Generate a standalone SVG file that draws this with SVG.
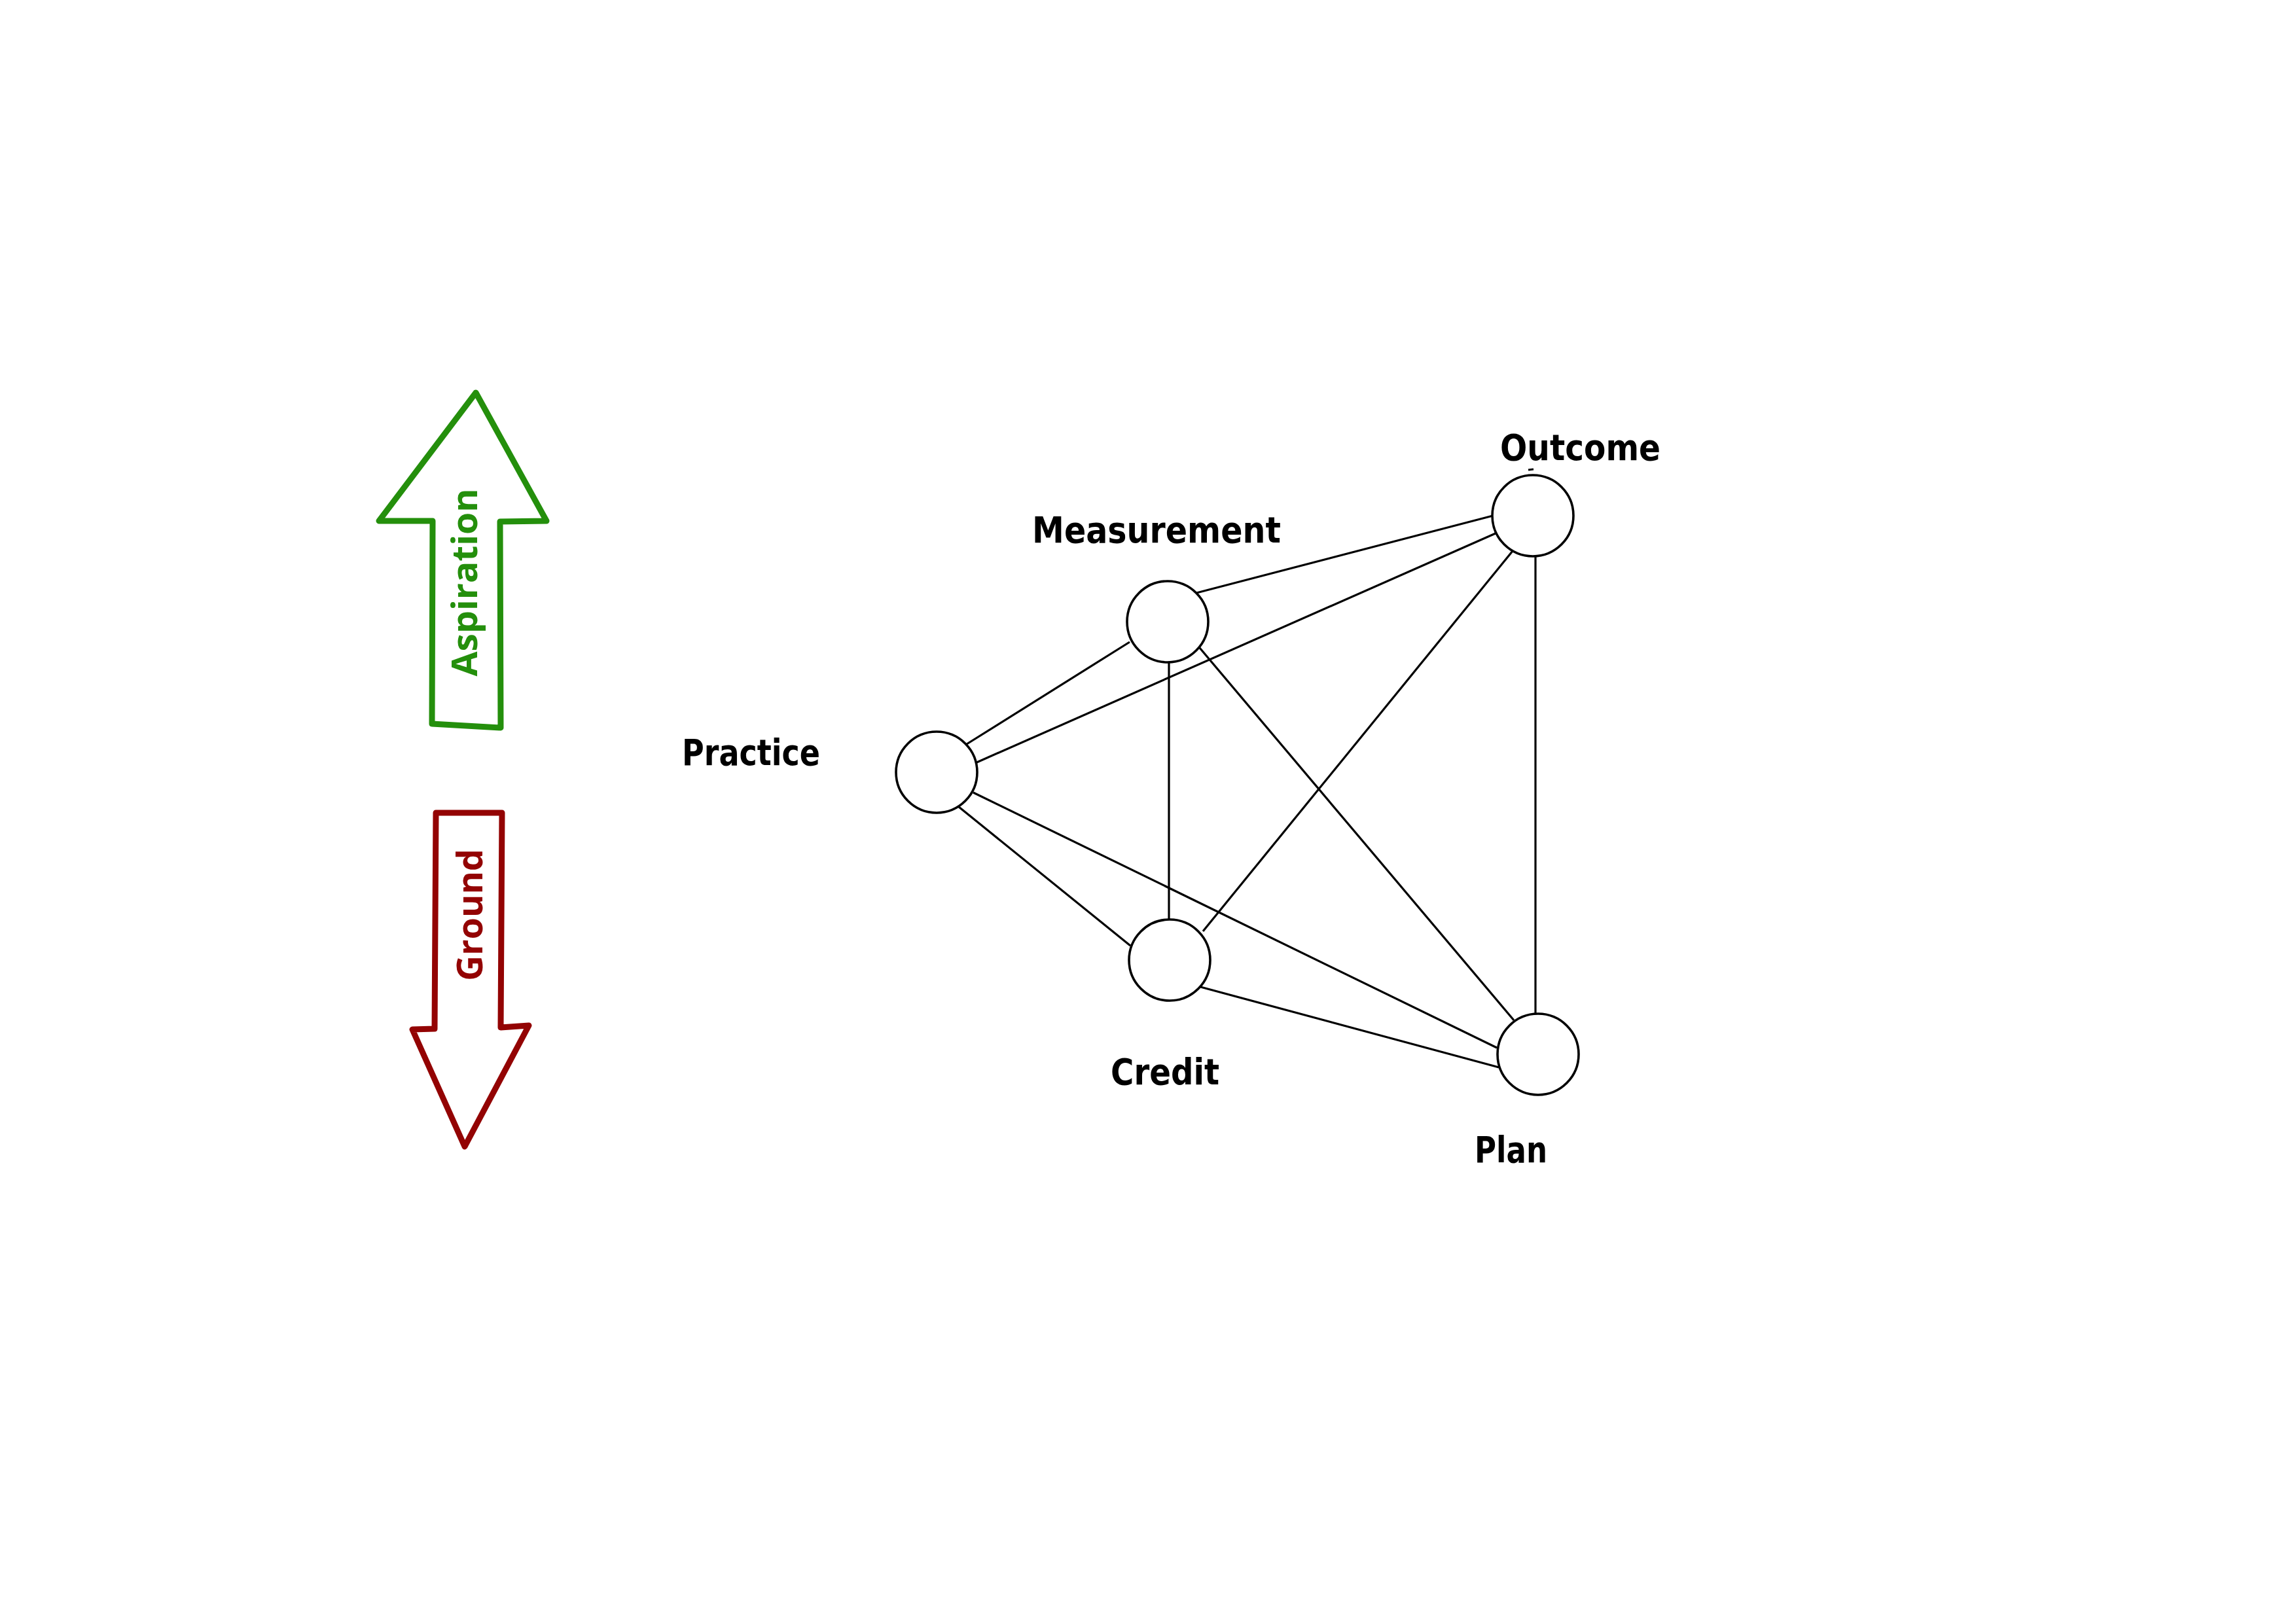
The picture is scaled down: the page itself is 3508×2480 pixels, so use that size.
<svg xmlns="http://www.w3.org/2000/svg" width="3508" height="2480" viewBox="0 0 3508 2480">
<style>
.node{fill:#fff;stroke:#000;stroke-width:3.6}
.edge{stroke:#000;stroke-width:3.2;fill:none;stroke-linecap:butt}
.lbl{font-family:"DejaVu Sans","Liberation Sans",sans-serif;font-weight:bold;font-size:55px;fill:#000}
.alab{font-family:"Open Sans","DejaVu Sans",sans-serif;font-weight:bold;font-size:54px}
</style>
<rect width="3508" height="2480" fill="#fff"/>
<g id="aspiration-arrow">
<polygon points="727,600 579,796 661,796 660,1106 765,1112 764,797 835,796" fill="#fff" stroke="#248f0c" stroke-width="9" stroke-linejoin="round"/>
<text class="alab" fill="#248f0c" x="729" y="890" transform="rotate(-90 729 890)" text-anchor="middle" textLength="287" lengthAdjust="spacingAndGlyphs">Aspiration</text>
</g>
<g id="ground-arrow">
<polygon points="666,1242 767,1242 765,1570 808,1567 710,1752 630,1573 664,1572" fill="#fff" stroke="#930303" stroke-width="9" stroke-linejoin="round"/>
<text class="alab" fill="#930303" x="737" y="1398" transform="rotate(-90 737 1398)" text-anchor="middle" textLength="202" lengthAdjust="spacingAndGlyphs">Ground</text>
</g>
<g id="connectors">
<line class="edge" x1="1828" y1="906" x2="2281" y2="788"/>
<line class="edge" x1="1490" y1="1166" x2="2285" y2="815"/>
<line class="edge" x1="1477" y1="1137" x2="1726" y2="981"/>
<line class="edge" x1="1786" y1="1009" x2="1786" y2="1405"/>
<line class="edge" x1="1833" y1="990" x2="2313" y2="1559"/>
<line class="edge" x1="2311" y1="842" x2="1838" y2="1423"/>
<line class="edge" x1="2346" y1="850" x2="2346" y2="1549"/>
<line class="edge" x1="1465" y1="1233" x2="1727" y2="1445"/>
<line class="edge" x1="1487" y1="1211" x2="2287" y2="1601"/>
<line class="edge" x1="1834" y1="1508" x2="2290" y2="1631"/>
</g>
<g id="node-outcome">
<circle class="node" cx="2342" cy="788" r="62"/>
<line x1="2335" y1="718" x2="2343" y2="717" stroke="#000" stroke-width="3"/>
<text class="lbl" x="2292" y="703" textLength="245" lengthAdjust="spacingAndGlyphs">Outcome</text>
</g>
<g id="node-measurement">
<circle class="node" cx="1784" cy="950" r="62"/>
<text class="lbl" x="1577" y="829" textLength="380" lengthAdjust="spacingAndGlyphs">Measurement</text>
</g>
<g id="node-practice">
<circle class="node" cx="1431" cy="1180" r="62"/>
<text class="lbl" x="1042" y="1169" textLength="211" lengthAdjust="spacingAndGlyphs">Practice</text>
</g>
<g id="node-credit">
<circle class="node" cx="1787" cy="1467" r="62"/>
<text class="lbl" x="1697" y="1657" textLength="166" lengthAdjust="spacingAndGlyphs">Credit</text>
</g>
<g id="node-plan">
<circle class="node" cx="2350" cy="1611" r="62"/>
<text class="lbl" x="2253" y="1776" textLength="111" lengthAdjust="spacingAndGlyphs">Plan</text>
</g>
</svg>
